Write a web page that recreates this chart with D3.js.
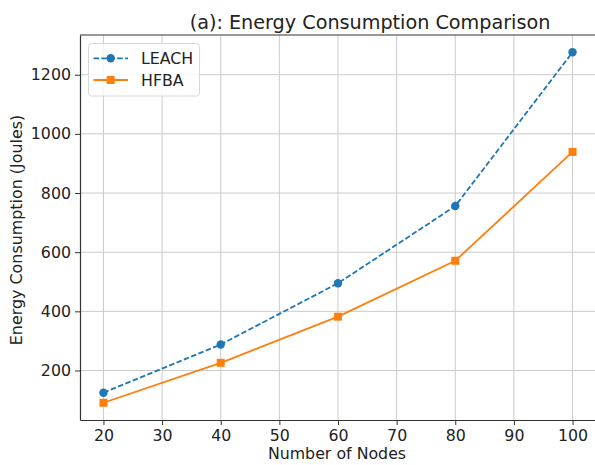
<!DOCTYPE html>
<html>
<head>
<meta charset="utf-8">
<script src="https://cdn.jsdelivr.net/npm/d3@7"></script>
<style>
    body { margin: 0; background: #fff; }
    svg { font-family: "DejaVu Sans", sans-serif; display: block; }
</style>
</head>
<body>
<svg width="595" height="465"></svg>
<script>
// Data
var nodes = [20, 40, 60, 80, 100];
var leach = [125, 288, 495, 756, 1276];
var hfba = [91, 226, 382, 571, 939];
var xTicks = [20, 30, 40, 50, 60, 70, 80, 90, 100];
var yTicks = [200, 400, 600, 800, 1000, 1200];

var svg = d3.select('svg');

var plot = {l: 80, r: 596, t: 35, b: 420};

var xScale = d3.scaleLinear().domain([16, 104]).range([plot.l, plot.r]);
var yScale = d3.scaleLinear().domain([32.7, 1334.3]).range([plot.b, plot.t]);

// Grid
var gridG = svg.append('g');
gridG.selectAll('.vgrid').data(xTicks).enter().append('line')
    .attr('x1', function(d) { return xScale(d); })
    .attr('x2', function(d) { return xScale(d); })
    .attr('y1', plot.t).attr('y2', plot.b)
    .attr('stroke', '#cbcbcb').attr('stroke-width', 1);
gridG.selectAll('.hgrid').data(yTicks).enter().append('line')
    .attr('y1', function(d) { return yScale(d); })
    .attr('y2', function(d) { return yScale(d); })
    .attr('x1', plot.l).attr('x2', plot.r)
    .attr('stroke', '#cbcbcb').attr('stroke-width', 1);

// Axes
var xAxisG = svg.append('g')
    .attr('transform', 'translate(' + [0, plot.b] + ')')
    .call(d3.axisBottom(xScale).tickValues(xTicks).tickSize(5).tickPadding(5).tickSizeOuter(0));
var yAxisG = svg.append('g')
    .attr('transform', 'translate(' + [plot.l, 0] + ')')
    .call(d3.axisLeft(yScale).tickValues(yTicks).tickSize(5).tickPadding(4).tickSizeOuter(0).tickFormat(d3.format('d')));

[xAxisG, yAxisG].forEach(function(g) {
    g.select('.domain').attr('stroke', '#333').attr('stroke-width', 1.2);
    g.selectAll('.tick line').attr('stroke', '#333').attr('stroke-width', 1);
    g.selectAll('.tick text')
        .attr('fill', '#222')
        .style('font-family', '"DejaVu Sans", sans-serif')
        .style('font-size', '15.8px');
});

// Top spine
svg.append('line')
    .attr('x1', plot.l).attr('x2', plot.r)
    .attr('y1', plot.t).attr('y2', plot.t)
    .attr('stroke', '#333').attr('stroke-width', 1.2);

// Series
var line = d3.line()
    .x(function(d) { return xScale(d[0]); })
    .y(function(d) { return yScale(d[1]); });

var leachPts = nodes.map(function(n, i) { return [n, leach[i]]; });
var hfbaPts = nodes.map(function(n, i) { return [n, hfba[i]]; });

svg.append('path').datum(leachPts)
    .attr('d', line).attr('fill', 'none')
    .attr('stroke', '#1f77b4').attr('stroke-width', 1.8)
    .attr('stroke-dasharray', '5.5,2.4');
svg.append('path').datum(hfbaPts)
    .attr('d', line).attr('fill', 'none')
    .attr('stroke', '#ff7f0e').attr('stroke-width', 1.8);

svg.selectAll('.dot').data(leachPts).enter().append('circle')
    .attr('cx', function(d) { return xScale(d[0]); })
    .attr('cy', function(d) { return yScale(d[1]); })
    .attr('r', 4.2).attr('fill', '#1f77b4');
svg.selectAll('.sq').data(hfbaPts).enter().append('rect')
    .attr('x', function(d) { return xScale(d[0]) - 4; })
    .attr('y', function(d) { return yScale(d[1]) - 4; })
    .attr('width', 8).attr('height', 8).attr('fill', '#ff7f0e');

// Labels
svg.append('text')
    .attr('x', 370).attr('y', 28.5)
    .attr('text-anchor', 'middle')
    .style('font-size', '19.2px').attr('fill', '#222')
    .text('(a): Energy Consumption Comparison');
svg.append('text')
    .attr('x', 337).attr('y', 459)
    .attr('text-anchor', 'middle')
    .style('font-size', '15.8px').attr('fill', '#222')
    .text('Number of Nodes');
svg.append('text')
    .attr('transform', 'translate(22,230) rotate(-90)')
    .attr('text-anchor', 'middle')
    .style('font-size', '15.9px').attr('fill', '#222')
    .text('Energy Consumption (Joules)');

// Legend
var legendG = svg.append('g');
legendG.append('rect')
    .attr('x', 88.5).attr('y', 43.5).attr('width', 111).attr('height', 52.5)
    .attr('rx', 3).attr('fill', 'rgba(255,255,255,0.8)')
    .attr('stroke', '#d8d8d8').attr('stroke-width', 1);
var legendItems = [
    {name: 'LEACH', color: '#1f77b4', dash: '5.5,2.4', shape: 'circle', y: 58.3},
    {name: 'HFBA', color: '#ff7f0e', dash: null, shape: 'square', y: 80}
];
legendItems.forEach(function(it) {
    legendG.append('line')
        .attr('x1', 93.5).attr('x2', 128).attr('y1', it.y).attr('y2', it.y)
        .attr('stroke', it.color).attr('stroke-width', 1.8)
        .attr('stroke-dasharray', it.dash);
    if (it.shape === 'circle') {
        legendG.append('circle').attr('cx', 110.7).attr('cy', it.y).attr('r', 4.2).attr('fill', it.color);
    } else {
        legendG.append('rect').attr('x', 106.7).attr('y', it.y - 4).attr('width', 8).attr('height', 8).attr('fill', it.color);
    }
    legendG.append('text')
        .attr('x', 141).attr('y', it.y + 5.8)
        .style('font-size', '15.8px').attr('fill', '#222')
        .text(it.name);
});
</script>
</body>
</html>
